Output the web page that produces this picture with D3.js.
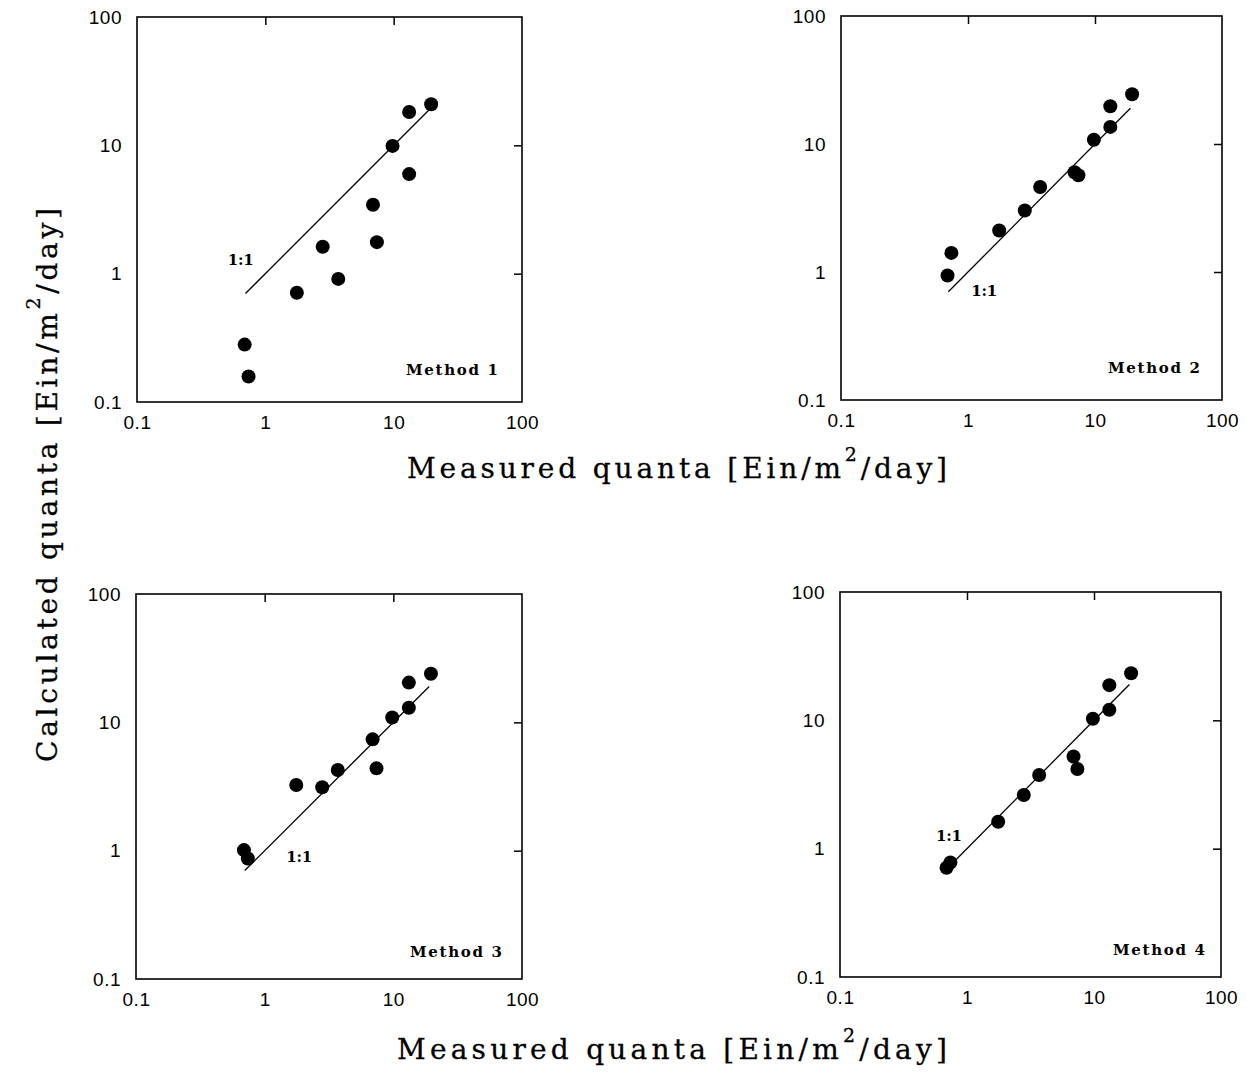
<!DOCTYPE html>
<html lang="en">
<head>
  <meta charset="UTF-8">
  <title>Calculated vs measured quanta</title>
  <script src="https://d3js.org/d3.v7.min.js"></script>
  <style>
    body { margin: 0; background: #fff; }
    .tick text { font-family: "Liberation Sans", Arial, sans-serif; font-size: 19px; fill: #000; letter-spacing: 0.5px; }
    .title { font-family: "DejaVu Serif", serif; font-size: 28px; fill: #000; stroke: #000; stroke-width: 0.3px; }
    .tag { font-family: "DejaVu Serif", serif; font-weight: bold; font-size: 15px; fill: #000; }
  </style>
</head>
<body>
<div id="chart"></div>
<script>
  // measured quanta, same for all four methods
  const measured = [0.69, 0.74, 1.76, 2.8, 3.7, 6.9, 7.4, 9.8, 13.2, 13.2, 19.6];

  // calculated quanta per method
  const method1 = [0.28, 0.158, 0.71, 1.62, 0.91, 3.44, 1.76, 9.9, 5.97, 18.2, 20.9];
  const method2 = [0.94, 1.41, 2.11, 3.02, 4.62, 6.01, 5.70, 10.8, 13.6, 19.7, 24.5];
  const method3 = [1.01, 0.87, 3.25, 3.12, 4.25, 7.37, 4.38, 10.9, 13.0, 20.4, 23.9];
  const method4 = [0.71, 0.78, 1.62, 2.62, 3.75, 5.22, 4.18, 10.3, 12.1, 18.8, 23.3];

  const methodNames = ['Method 1', 'Method 2', 'Method 3', 'Method 4'];
  const tickValues = [0.1, 1, 10, 100];
  const innerTicks = [1, 10];
  const oneToOne = [0.7, 19];

  // layout of the four panels (pixels) and where the labels sit
  const panels = [
    { left: 137, right: 522, top: 17, bottom: 402, tag: [24, 27], one: [0.51, 1.17] },
    { left: 841, right: 1222, top: 16, bottom: 400, tag: [22, 27], one: [1.06, 0.65] },
    { left: 136, right: 522, top: 594, bottom: 979, tag: [20, 22], one: [1.47, 0.815] },
    { left: 840, right: 1221, top: 592, bottom: 977, tag: [16, 22], one: [0.57, 1.15] }
  ];
  const series = [method1, method2, method3, method4];

  const svg = d3.select('#chart')
    .append('svg')
    .attr('width', 1247)
    .attr('height', 1072);

  const fmt = d => d === 0.1 ? '0.1' : String(d);

  panels.forEach((p, i) => {
    const x = d3.scaleLog().domain([0.1, 100]).range([p.left, p.right]);
    const y = d3.scaleLog().domain([0.1, 100]).range([p.bottom, p.top]);
    const g = svg.append('g');

    // tick labels
    g.append('g')
      .attr('transform', `translate(${p.left},0)`)
      .call(d3.axisLeft(y).tickValues(tickValues).tickSize(0).tickPadding(15).tickFormat(fmt))
      .call(a => a.select('.domain').remove());
    g.append('g')
      .attr('transform', `translate(0,${p.bottom})`)
      .call(d3.axisBottom(x).tickValues(tickValues).tickSize(0).tickPadding(14).tickFormat(fmt))
      .call(a => a.select('.domain').remove());

    // inner ticks on top and right
    g.append('g')
      .attr('transform', `translate(0,${p.top})`)
      .call(d3.axisTop(x).tickValues(innerTicks).tickSize(-8).tickFormat(''))
      .call(a => a.select('.domain').remove())
      .selectAll('line').attr('stroke-width', 1.5);
    g.append('g')
      .attr('transform', `translate(${p.right},0)`)
      .call(d3.axisRight(y).tickValues(innerTicks).tickSize(-8).tickFormat(''))
      .call(a => a.select('.domain').remove())
      .selectAll('line').attr('stroke-width', 1.5);

    // frame
    g.append('rect')
      .attr('x', p.left).attr('y', p.top)
      .attr('width', p.right - p.left).attr('height', p.bottom - p.top)
      .attr('fill', 'none').attr('stroke', '#000').attr('stroke-width', 1.6);

    // 1:1 line
    g.append('path')
      .datum(oneToOne)
      .attr('fill', 'none')
      .attr('stroke', '#000')
      .attr('stroke-width', 1.3)
      .attr('d', d3.line().x(d => x(d)).y(d => y(d)));

    g.append('text')
      .attr('class', 'tag')
      .attr('x', x(p.one[0])).attr('y', y(p.one[1]))
      .attr('textLength', 26)
      .text('1:1');

    // points
    g.selectAll('circle')
      .data(measured.map((m, j) => [m, series[i][j]]))
      .enter().append('circle')
      .attr('cx', d => x(d[0]))
      .attr('cy', d => y(d[1]))
      .attr('r', 7)
      .attr('fill', '#000');

    g.append('text')
      .attr('class', 'tag')
      .attr('x', p.right - p.tag[0])
      .attr('y', p.bottom - p.tag[1])
      .attr('text-anchor', 'end')
      .attr('textLength', 92)
      .text(methodNames[i]);
  });

  // axis titles
  function unitTitle(sel, lead) {
    sel.append('tspan').text(lead + ' [Ein/m');
    sel.append('tspan').attr('dy', -17).attr('font-size', 19).text('2');
    sel.append('tspan').attr('dy', 17).text('/day]');
  }

  svg.append('text').attr('class', 'title')
    .attr('x', 677).attr('y', 478)
    .attr('text-anchor', 'middle')
    .attr('textLength', 540)
    .call(unitTitle, 'Measured quanta');

  svg.append('text').attr('class', 'title')
    .attr('x', 672).attr('y', 1059)
    .attr('text-anchor', 'middle')
    .attr('textLength', 550)
    .call(unitTitle, 'Measured quanta');

  svg.append('text').attr('class', 'title')
    .attr('transform', 'translate(57,485) rotate(-90)')
    .attr('text-anchor', 'middle')
    .attr('textLength', 554)
    .call(unitTitle, 'Calculated quanta');
</script>
</body>
</html>
